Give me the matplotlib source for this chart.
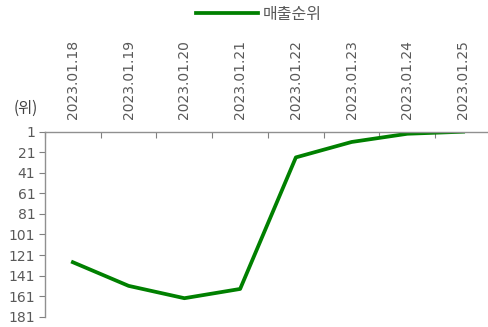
import matplotlib.pyplot as plt

plt.rcParams['font.family'] = ['DejaVu Sans', 'Noto Sans CJK KR']

# 날짜별 매출순위
dates = ['2023.01.18', '2023.01.19', '2023.01.20', '2023.01.21',
         '2023.01.22', '2023.01.23', '2023.01.24', '2023.01.25']
rank = [128, 151, 163, 154, 26, 11, 3, 1]
yticks = [1, 21, 41, 61, 81, 101, 121, 141, 161, 181]

fig = plt.figure(figsize=(4.89, 3.27), dpi=100)
ax = fig.add_axes([45 / 489, 1 - 316.7 / 327, 446 / 489, (316.7 - 131.7) / 327])

x = list(range(len(dates)))
ax.plot(x, rank, color='#008000', lw=2.7, label='매출순위', solid_joinstyle='round')

ax.set_xlim(-0.5, len(dates) - 0.5)
ax.set_ylim(181, 1)
ax.set_yticks(yticks)
ax.tick_params(axis='y', direction='out', length=4, color='#808080',
               labelsize=10, labelcolor='#595959', pad=3)

# category boundaries get the ticks, labels sit at the centres
ax.xaxis.tick_top()
ax.set_xticks([i - 0.5 for i in range(len(dates) + 1)])
ax.set_xticklabels([])
ax.set_xticks(x, minor=True)
ax.set_xticklabels(dates, minor=True, rotation=90)
ax.tick_params(axis='x', which='major', direction='in', length=4, color='#808080')
ax.tick_params(axis='x', which='minor', length=0, labelsize=10,
               labelcolor='#595959', pad=9)

for s in ['right', 'bottom']:
    ax.spines[s].set_visible(False)
for s in ['left', 'top']:
    ax.spines[s].set_color('#909090')
    ax.spines[s].set_linewidth(1.0)

fig.text(14 / 489, 1 - 108 / 327, '(위)', fontsize=11, color='#404040', va='center',
         family=['Noto Sans CJK KR', 'DejaVu Sans'])

fig.legend(loc='center', bbox_to_anchor=(259 / 489, 1 - 14 / 327), frameon=False,
           handlelength=3.9, handletextpad=0.3, labelcolor='#595959',
           prop={'family': ['Noto Sans CJK KR'], 'size': 11.5})

fig.savefig('out.png', dpi=100)
